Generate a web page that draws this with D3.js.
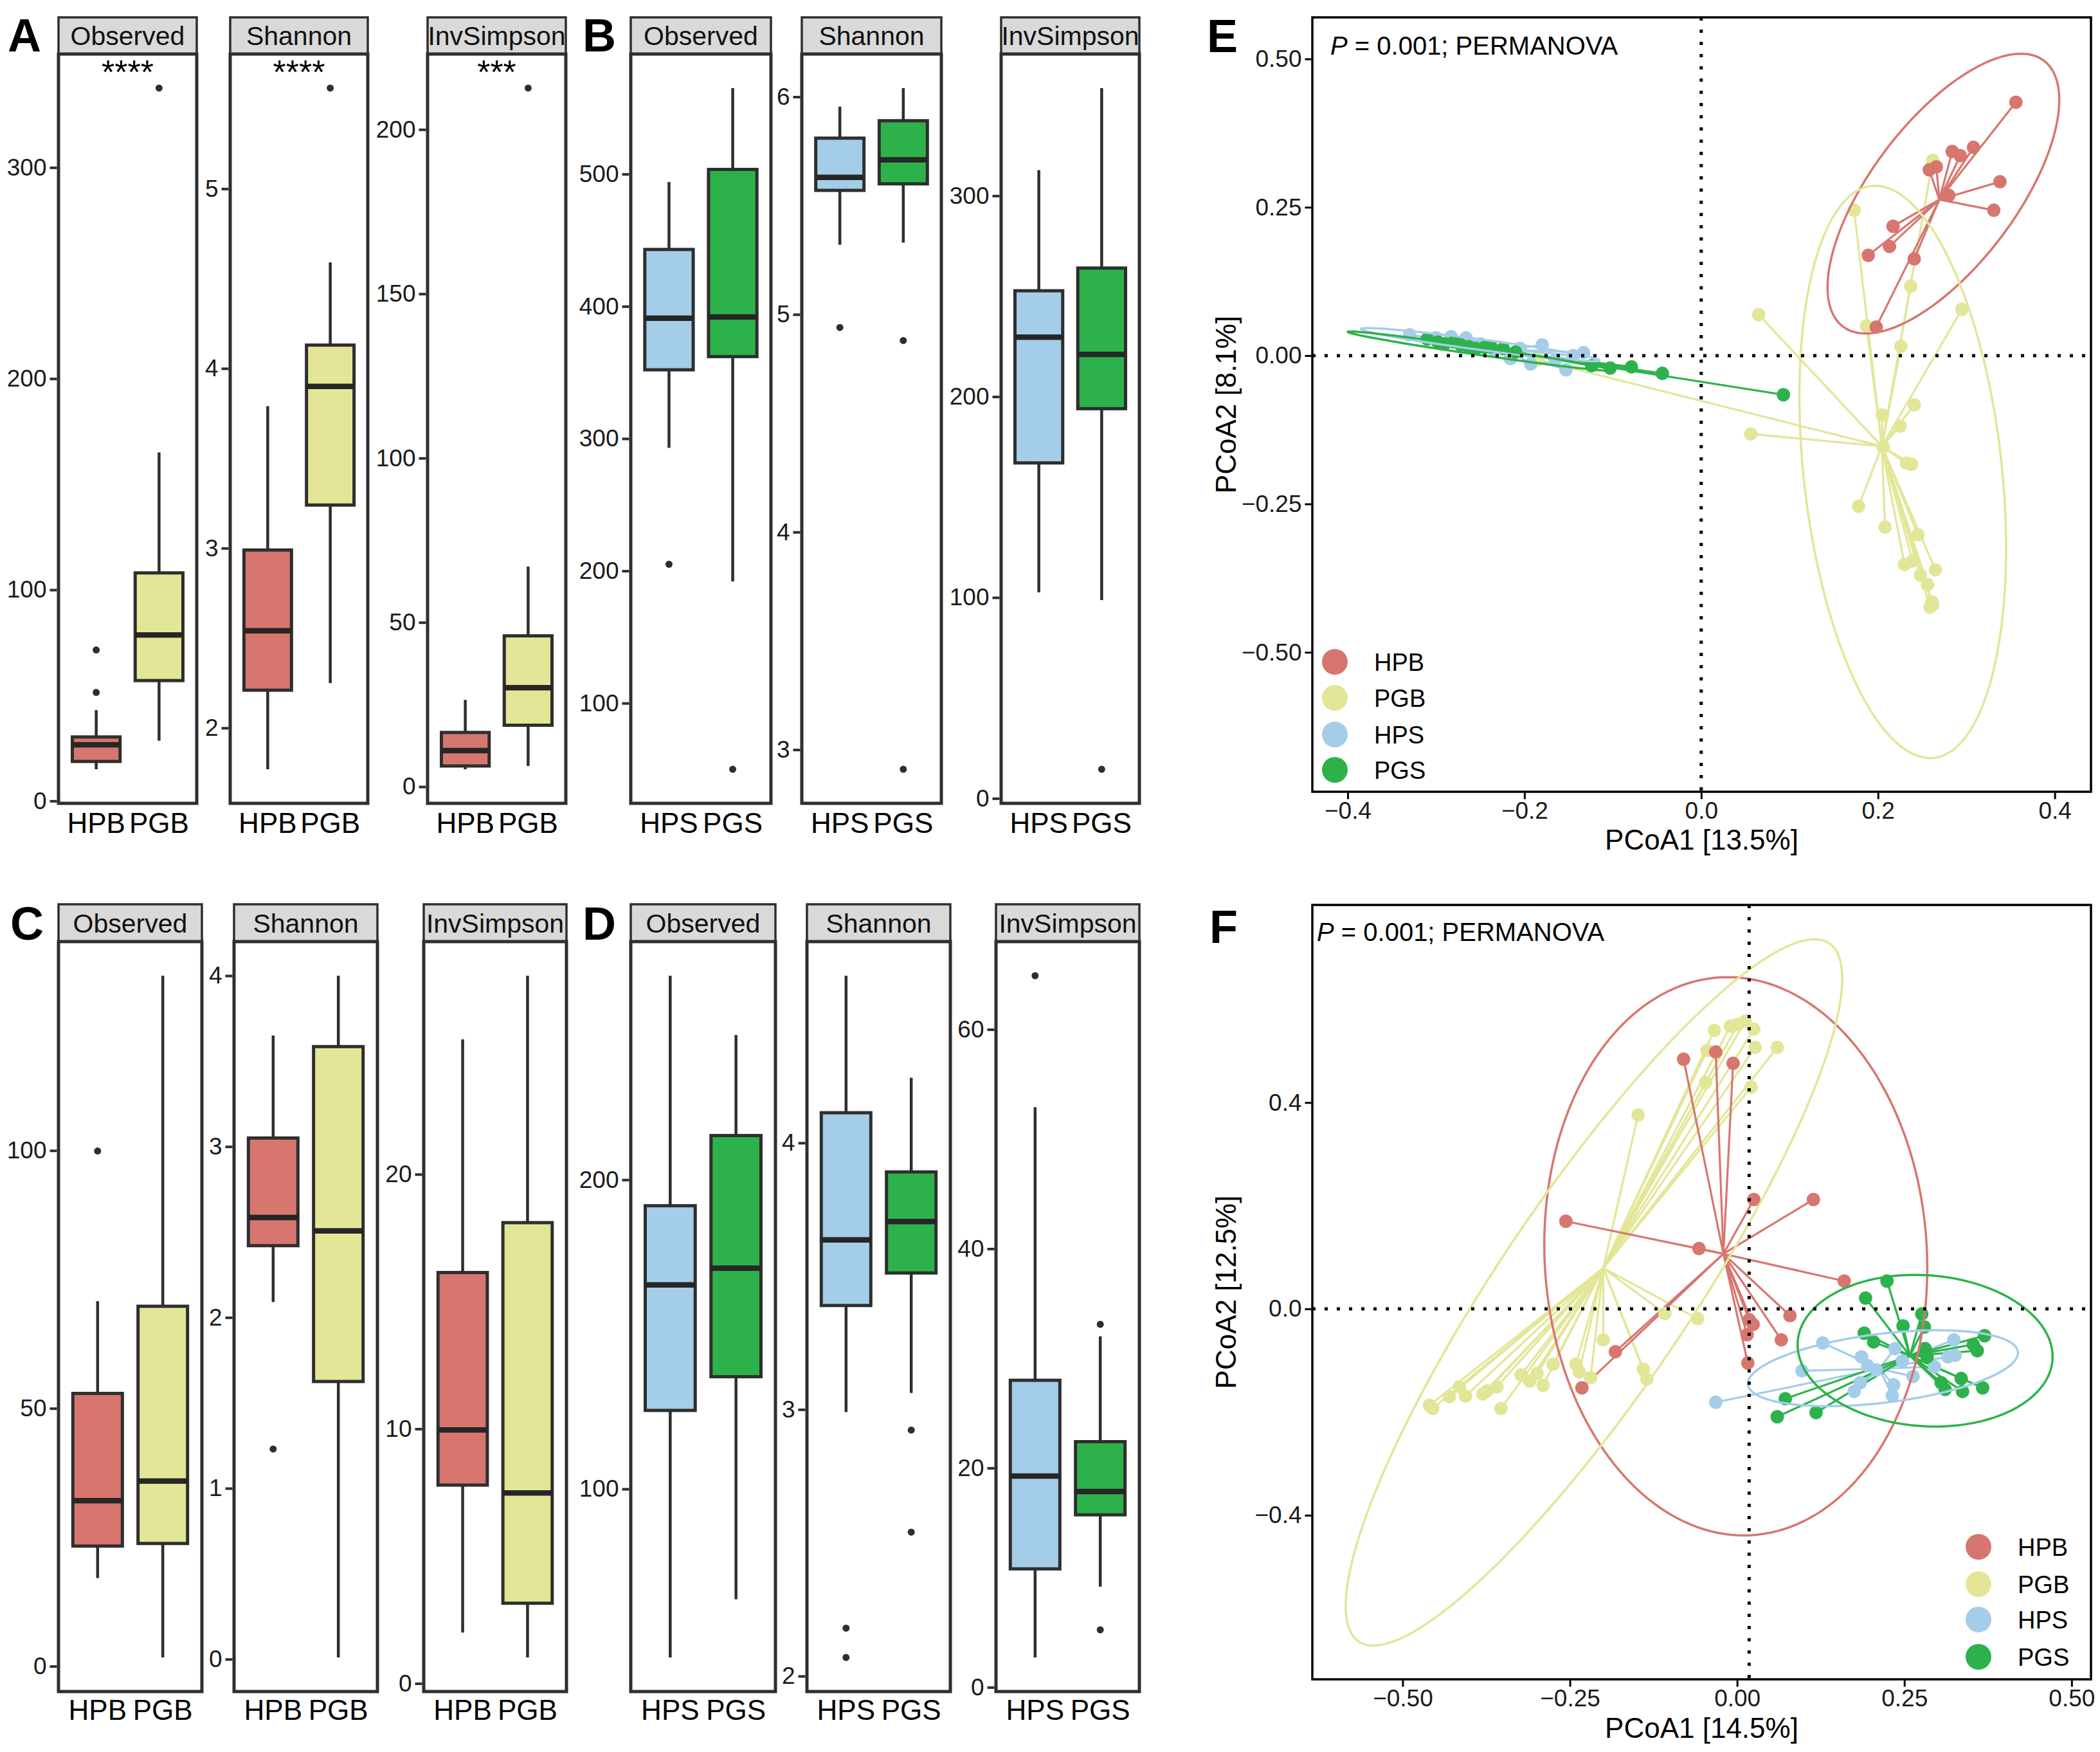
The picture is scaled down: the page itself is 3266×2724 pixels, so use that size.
<!DOCTYPE html>
<html lang="en">
<head>
<meta charset="UTF-8">
<title>Alpha diversity and PCoA</title>
<script src="https://d3js.org/d3.v7.min.js"></script>
<style>
  body { margin: 0; background: #fff; }
  text { font-family: "Liberation Sans", Arial, sans-serif; }
</style>
</head>
<body>
<script>
// ---------- data ----------
const metrics = ["Observed", "Shannon", "InvSimpson"];
const groupsB = ["HPB", "PGB"];
const groupsS = ["HPS", "PGS"];
const legendGroups = ["HPB", "PGB", "HPS", "PGS"];

// box stats per facet: lower whisker, q1, median, q3, upper whisker, outliers
const A_observed = [
  { lo: 15, q1: 18.7, med: 26.6, q3: 30.3, hi: 43, out: [51.4, 71.5] },
  { lo: 28.5, q1: 57, med: 78.6, q3: 108, hi: 165, out: [337.6] }
];
const A_shannon = [
  { lo: 1.77, q1: 2.21, med: 2.54, q3: 2.99, hi: 3.79, out: [] },
  { lo: 2.25, q1: 3.24, med: 3.90, q3: 4.13, hi: 4.59, out: [5.56] }
];
const A_invsimpson = [
  { lo: 5.3, q1: 6.3, med: 11, q3: 16.5, hi: 26.4, out: [] },
  { lo: 6.3, q1: 18.7, med: 30.1, q3: 45.9, hi: 67, out: [212.6] }
];
const B_observed = [
  { lo: 293, q1: 352, med: 391, q3: 443, hi: 494, out: [205] },
  { lo: 192, q1: 362, med: 392, q3: 503.5, hi: 565, out: [50] }
];
const B_shannon = [
  { lo: 5.32, q1: 5.57, med: 5.63, q3: 5.81, hi: 5.955, out: [4.94] },
  { lo: 5.33, q1: 5.60, med: 5.71, q3: 5.89, hi: 6.04, out: [4.88, 2.91] }
];
const B_invsimpson = [
  { lo: 102.6, q1: 167, med: 229.6, q3: 252.7, hi: 312.8, out: [] },
  { lo: 98.7, q1: 194, med: 221, q3: 264, hi: 353.6, out: [14.5] }
];
const C_observed = [
  { lo: 17.1, q1: 23.3, med: 32.1, q3: 52.9, hi: 70.8, out: [99.9] },
  { lo: 1.7, q1: 23.8, med: 35.9, q3: 69.8, hi: 133.9, out: [] }
];
const C_shannon = [
  { lo: 2.09, q1: 2.42, med: 2.585, q3: 3.05, hi: 3.65, out: [1.23] },
  { lo: 0.01, q1: 1.625, med: 2.507, q3: 3.585, hi: 4.0, out: [] }
];
const C_invsimpson = [
  { lo: 2.0, q1: 7.79, med: 9.96, q3: 16.14, hi: 25.3, out: [] },
  { lo: 1.02, q1: 3.15, med: 7.48, q3: 18.1, hi: 27.8, out: [] }
];
const D_observed = [
  { lo: 45.5, q1: 125.4, med: 166, q3: 191.6, hi: 266, out: [] },
  { lo: 64.3, q1: 136.3, med: 171.4, q3: 214.3, hi: 246.8, out: [] }
];
const D_shannon = [
  { lo: 2.99, q1: 3.39, med: 3.636, q3: 4.113, hi: 4.627, out: [2.18, 2.07] },
  { lo: 3.062, q1: 3.512, med: 3.705, q3: 3.891, hi: 4.244, out: [2.923, 2.54] }
];
const D_invsimpson = [
  { lo: 2.72, q1: 10.8, med: 19.26, q3: 28.0, hi: 52.9, out: [64.9] },
  { lo: 9.18, q1: 15.73, med: 17.85, q3: 22.4, hi: 32.0, out: [33.1, 5.24] }
];

const A_ticks = [[0, 100, 200, 300], [2, 3, 4, 5], [0, 50, 100, 150, 200]];
const B_ticks = [[100, 200, 300, 400, 500], [3, 4, 5, 6], [0, 100, 200, 300]];
const C_ticks = [[0, 50, 100], [0, 1, 2, 3, 4], [0, 10, 20]];
const D_ticks = [[100, 200], [2, 3, 4], [0, 20, 40, 60]];
const A_sig = ["****", "****", "***"];

// PCoA scores (panel E)
const E_HPB = [[0.356,0.427],[0.308,0.351],[0.284,0.344],[0.293,0.337],[0.266,0.318],[0.258,0.313],
  [0.338,0.293],[0.280,0.270],[0.331,0.245],[0.217,0.218],[0.213,0.184],[0.189,0.169],[0.241,0.163],[0.198,0.048]];
const E_PGB = [[0.262,0.329],[0.173,0.245],[0.065,0.069],[0.187,0.050],[0.237,0.117],[0.226,0.016],
  [0.295,0.078],[0.056,-0.132],[0.205,-0.100],[0.241,-0.083],[0.225,-0.119],[0.206,-0.154],[0.232,-0.181],
  [0.238,-0.183],[0.178,-0.254],[0.208,-0.289],[0.245,-0.302],[0.230,-0.352],[0.239,-0.346],[0.265,-0.361],
  [0.248,-0.370],[0.256,-0.386],[0.261,-0.415],[0.259,-0.424],[0.262,-0.420],[-0.185,-0.007]];
const E_HPS = [[-0.330,0.035],[-0.300,0.030],[-0.283,0.032],[-0.266,0.030],[-0.250,0.020],[-0.235,0.010],
  [-0.216,-0.005],[-0.205,0.012],[-0.193,-0.014],[-0.180,0.018],[-0.165,-0.008],[-0.153,-0.024],[-0.145,0.000],[-0.133,0.005]];
const E_PGS = [[-0.310,0.028],[-0.298,0.023],[-0.290,0.020],[-0.280,0.023],[-0.272,0.018],[-0.263,0.015],
  [-0.255,0.012],[-0.245,0.014],[-0.238,0.015],[-0.224,0.012],[-0.210,0.006],[-0.124,-0.017],[-0.103,-0.021],
  [-0.079,-0.019],[-0.044,-0.030],[0.093,-0.066]];
// ellipse: centre and two semi-axis vectors, in data units
const E_ellipses = [
  { group: "HPB", cx: 0.274, cy: 0.273, ax: 0.1114, ay: 0.2264, bx: 0.0691, by: -0.0657 },
  { group: "PGB", cx: 0.228, cy: -0.196, ax: 0.0346, ay: -0.482, bx: 0.1117, by: 0.0154 },
  { group: "HPS", cx: -0.250, cy: 0.0185, ax: 0.135, ay: -0.0265, bx: -0.001, by: -0.0087 },
  { group: "PGS", cx: -0.250, cy: 0.0075, ax: 0.150, ay: -0.0325, bx: -0.0006, by: -0.0065 }
];

// PCoA scores (panel F)
const F_HPB = [[-0.080,0.484],[-0.032,0.498],[-0.006,0.476],[-0.256,0.170],[-0.057,0.117],[0.025,0.212],
  [0.114,0.212],[0.160,0.054],[0.079,-0.013],[0.018,-0.021],[0.024,-0.030],[0.015,-0.050],[0.066,-0.060],
  [0.016,-0.105],[-0.182,-0.083],[-0.232,-0.153]];
const F_PGB = [[-0.034,0.540],[0.001,0.551],[0.012,0.558],[0.025,0.542],[0.027,0.507],[0.060,0.507],
  [-0.045,0.501],[0.021,0.430],[-0.047,0.439],[-0.148,0.376],[-0.010,0.548],
  [-0.460,-0.187],[-0.455,-0.193],[-0.430,-0.170],[-0.415,-0.151],[-0.406,-0.169],[-0.380,-0.165],
  [-0.374,-0.159],[-0.359,-0.151],[-0.353,-0.193],[-0.323,-0.128],[-0.310,-0.140],[-0.299,-0.125],
  [-0.290,-0.148],[-0.275,-0.107],[-0.241,-0.107],[-0.236,-0.122],[-0.219,-0.133],[-0.200,-0.060],
  [-0.140,-0.117],[-0.135,-0.136],[-0.108,-0.009],[-0.059,-0.019]];
const F_HPS = [[-0.032,-0.181],[0.128,-0.066],[0.097,-0.120],[0.186,-0.093],[0.236,-0.077],[0.324,-0.060],
  [0.326,-0.090],[0.315,-0.093],[0.295,-0.112],[0.263,-0.131],[0.195,-0.110],[0.208,-0.118],[0.184,-0.143],
  [0.175,-0.160],[0.234,-0.147],[0.232,-0.168],[0.247,-0.101]];
const F_PGS = [[0.224,0.054],[0.192,0.021],[0.276,-0.010],[0.280,-0.035],[0.248,-0.033],[0.190,-0.047],
  [0.204,-0.064],[0.281,-0.077],[0.284,-0.093],[0.370,-0.052],[0.353,-0.069],[0.359,-0.081],[0.335,-0.135],
  [0.305,-0.143],[0.337,-0.160],[0.367,-0.153],[0.311,-0.156],[0.072,-0.174],[0.060,-0.209],[0.118,-0.201]];
const F_ellipses = [
  { group: "HPB", cx: -0.002, cy: 0.102, ax: -0.012, ay: 0.541, bx: 0.286, by: 0 },
  { group: "PGB", cx: -0.214, cy: 0.032, ax: 0.350, ay: 0.678, bx: 0.1235, by: -0.0942 },
  { group: "HPS", cx: 0.218, cy: -0.115, ax: 0.2017, ay: 0.0318, bx: 0.0062, by: -0.0663 },
  { group: "PGS", cx: 0.281, cy: -0.081, ax: 0.190, ay: 0.0, bx: -0.015, by: 0.147 }
];

const E_xTicks = [-0.4, -0.2, 0.0, 0.2, 0.4];
const E_yTicks = [-0.50, -0.25, 0.00, 0.25, 0.50];
const F_xTicks = [-0.50, -0.25, 0.00, 0.25, 0.50];
const F_yTicks = [-0.4, 0.0, 0.4];

// ---------- drawing ----------
const colors = { HPB: "#D7766F", PGB: "#E3E697", HPS: "#A4CDE9", PGS: "#2DB24B" };
const ink = "#2e2e2e";

const svg = d3.select("body").append("svg")
  .attr("width", 3266)
  .attr("height", 2724);

const rows = [
  { strip: 27, top: 84, bottom: 1249, label: 1295 },
  { strip: 1406, top: 1464, bottom: 2630, label: 2674 }
];

let clipId = 0;

function drawFacet(x0, x1, row, title, groups, stats, ticks, sig) {
  const g = svg.append("g");
  const x = d3.scalePoint().domain(groups).range([x0, x1]).padding(0.6);
  const vals = stats.flatMap(s => [s.lo, s.hi, ...s.out]);
  const [mn, mx] = d3.extent(vals);
  const pad = (mx - mn) * 0.05;
  const y = d3.scaleLinear().domain([mn - pad, mx + pad]).range([row.bottom, row.top]);
  const bw = x.step() * 0.76;

  // strip
  const id = "clip" + (clipId++);
  g.append("clipPath").attr("id", id)
    .append("rect").attr("x", x0).attr("y", row.strip).attr("width", x1 - x0).attr("height", row.top - row.strip);
  g.append("rect")
    .attr("x", x0).attr("y", row.strip)
    .attr("width", x1 - x0).attr("height", row.top - row.strip)
    .attr("fill", "#D9D9D9").attr("stroke", ink).attr("stroke-width", 3.5);
  g.append("text")
    .attr("clip-path", `url(#${id})`)
    .attr("x", (x0 + x1) / 2).attr("y", (row.strip + row.top) / 2)
    .attr("dy", "0.36em").attr("text-anchor", "middle")
    .attr("font-size", 41).attr("fill", "#111")
    .text(title);

  // boxes
  stats.forEach((s, i) => {
    const cx = x(groups[i]);
    g.append("line").attr("x1", cx).attr("x2", cx).attr("y1", y(s.lo)).attr("y2", y(s.q1))
      .attr("stroke", ink).attr("stroke-width", 4.5);
    g.append("line").attr("x1", cx).attr("x2", cx).attr("y1", y(s.q3)).attr("y2", y(s.hi))
      .attr("stroke", ink).attr("stroke-width", 4.5);
    g.append("rect")
      .attr("x", cx - bw / 2).attr("y", y(s.q3))
      .attr("width", bw).attr("height", y(s.q1) - y(s.q3))
      .attr("fill", colors[groups[i]]).attr("stroke", ink).attr("stroke-width", 5);
    g.append("line").attr("x1", cx - bw / 2).attr("x2", cx + bw / 2).attr("y1", y(s.med)).attr("y2", y(s.med))
      .attr("stroke", "#262626").attr("stroke-width", 8.5);
    g.selectAll(null).data(s.out).join("circle")
      .attr("cx", cx).attr("cy", d => y(d)).attr("r", 5.5).attr("fill", ink);
  });

  // frame
  g.append("rect")
    .attr("x", x0).attr("y", row.top)
    .attr("width", x1 - x0).attr("height", row.bottom - row.top)
    .attr("fill", "none").attr("stroke", ink).attr("stroke-width", 5);

  // y axis
  const ax = g.append("g").attr("transform", `translate(${x0 - 2.5},0)`)
    .call(d3.axisLeft(y).tickValues(ticks).tickFormat(d3.format("d")).tickSize(11).tickPadding(5));
  ax.select(".domain").remove();
  ax.selectAll(".tick line").attr("stroke", ink).attr("stroke-width", 4);
  ax.selectAll(".tick text").attr("font-size", 37).attr("fill", "#1a1a1a")
    .attr("font-family", "Liberation Sans, Arial, sans-serif");

  // x labels
  g.selectAll(null).data(groups).join("text")
    .attr("x", d => x(d)).attr("y", row.label)
    .attr("text-anchor", "middle").attr("font-size", 44).attr("fill", "#000")
    .text(d => d);

  if (sig) {
    g.append("text")
      .attr("x", (x0 + x1) / 2).attr("y", row.top + 46)
      .attr("text-anchor", "middle").attr("font-size", 52).attr("fill", "#000")
      .text(sig);
  }
}

const facetX = {
  A: [[91, 306], [358, 572], [665, 880]],
  B: [[981, 1199], [1247, 1464], [1557, 1772]],
  C: [[91, 314], [364, 587], [659, 881]],
  D: [[981, 1206], [1255, 1478], [1549, 1772]]
};

[A_observed, A_shannon, A_invsimpson].forEach((s, i) =>
  drawFacet(facetX.A[i][0], facetX.A[i][1], rows[0], metrics[i], groupsB, s, A_ticks[i], A_sig[i]));
[B_observed, B_shannon, B_invsimpson].forEach((s, i) =>
  drawFacet(facetX.B[i][0], facetX.B[i][1], rows[0], metrics[i], groupsS, s, B_ticks[i], null));
[C_observed, C_shannon, C_invsimpson].forEach((s, i) =>
  drawFacet(facetX.C[i][0], facetX.C[i][1], rows[1], metrics[i], groupsB, s, C_ticks[i], null));
[D_observed, D_shannon, D_invsimpson].forEach((s, i) =>
  drawFacet(facetX.D[i][0], facetX.D[i][1], rows[1], metrics[i], groupsS, s, D_ticks[i], null));

function ellipsePoints(e) {
  return d3.range(0, 181).map(i => {
    const t = i / 180 * 2 * Math.PI;
    return [e.cx + e.ax * Math.cos(t) + e.bx * Math.sin(t), e.cy + e.ay * Math.cos(t) + e.by * Math.sin(t)];
  });
}

function drawPcoa(c) {
  const g = svg.append("g");
  const x = d3.scaleLinear().domain(c.xDom).range([c.left, c.right]);
  const y = d3.scaleLinear().domain(c.yDom).range([c.bottom, c.top]);
  const id = "clip" + (clipId++);
  g.append("clipPath").attr("id", id).append("rect")
    .attr("x", c.left).attr("y", c.top).attr("width", c.right - c.left).attr("height", c.bottom - c.top);
  const plot = g.append("g").attr("clip-path", `url(#${id})`);

  const drawOrder = ["PGB", "HPB", "HPS", "PGS"];
  const centroids = {};
  c.sets.forEach(s => { centroids[s.group] = [d3.mean(s.pts, p => p[0]), d3.mean(s.pts, p => p[1])]; });

  // spider segments
  drawOrder.forEach(gr => {
    const s = c.sets.find(d => d.group === gr);
    const ct = centroids[gr];
    plot.selectAll(null).data(s.pts).join("line")
      .attr("x1", d => x(d[0])).attr("y1", d => y(d[1]))
      .attr("x2", x(ct[0])).attr("y2", y(ct[1]))
      .attr("stroke", colors[gr]).attr("stroke-width", 3.2);
  });
  // points
  drawOrder.forEach(gr => {
    const s = c.sets.find(d => d.group === gr);
    plot.selectAll(null).data(s.pts).join("circle")
      .attr("cx", d => x(d[0])).attr("cy", d => y(d[1])).attr("r", 10.5)
      .attr("fill", colors[gr]);
  });
  // ellipses
  const line = d3.line().x(d => x(d[0])).y(d => y(d[1])).curve(d3.curveLinearClosed);
  c.ellipses.forEach(e => {
    plot.append("path").attr("d", line(ellipsePoints(e)))
      .attr("fill", "none").attr("stroke", colors[e.group]).attr("stroke-width", 3.5);
  });
  // reference lines
  plot.append("line").attr("x1", x(c.refX)).attr("x2", x(c.refX)).attr("y1", c.top).attr("y2", c.bottom)
    .attr("stroke", "#000").attr("stroke-width", 5).attr("stroke-dasharray", "5,14");
  plot.append("line").attr("x1", c.left).attr("x2", c.right).attr("y1", y(0)).attr("y2", y(0))
    .attr("stroke", "#000").attr("stroke-width", 5).attr("stroke-dasharray", "5,14");

  // frame
  g.append("rect").attr("x", c.left).attr("y", c.top)
    .attr("width", c.right - c.left).attr("height", c.bottom - c.top)
    .attr("fill", "none").attr("stroke", "#000").attr("stroke-width", 3.5);

  const xa = g.append("g").attr("transform", `translate(0,${c.bottom + 1.5})`)
    .call(d3.axisBottom(x).tickValues(c.xTicks).tickFormat(d3.format(c.xFmt)).tickSize(10).tickPadding(4));
  const ya = g.append("g").attr("transform", `translate(${c.left - 1.5},0)`)
    .call(d3.axisLeft(y).tickValues(c.yTicks).tickFormat(d3.format(c.yFmt)).tickSize(10).tickPadding(5));
  [xa, ya].forEach(a => {
    a.select(".domain").remove();
    a.selectAll(".tick line").attr("stroke", "#000").attr("stroke-width", 3);
    a.selectAll(".tick text").attr("font-size", 37).attr("fill", "#1a1a1a")
      .attr("font-family", "Liberation Sans, Arial, sans-serif");
  });

  g.append("text").attr("x", (c.left + c.right) / 2).attr("y", c.xTitleY)
    .attr("text-anchor", "middle").attr("font-size", 44).attr("fill", "#000").text(c.xTitle);
  g.append("text").attr("transform", `translate(1906,${(c.top + c.bottom) / 2}) rotate(-90)`)
    .attr("dy", "0.36em").attr("text-anchor", "middle").attr("font-size", 44).attr("fill", "#000").text(c.yTitle);

  const ann = g.append("text").attr("x", c.annX).attr("y", c.annY).attr("font-size", 40).attr("fill", "#000");
  ann.append("tspan").attr("font-style", "italic").text("P");
  ann.append("tspan").text(" = 0.001; PERMANOVA");

  const leg = g.selectAll(null).data(legendGroups).join("g")
    .attr("transform", (d, i) => `translate(${c.legX},${c.legY[i]})`);
  leg.append("circle").attr("r", 20).attr("fill", d => colors[d]);
  leg.append("text").attr("x", 61).attr("dy", "0.36em").attr("font-size", 38).attr("fill", "#000").text(d => d);
}

drawPcoa({
  left: 2041, right: 3252, top: 27, bottom: 1231,
  xDom: [-0.44, 0.441], yDom: [-0.735, 0.570],
  xTicks: E_xTicks, yTicks: E_yTicks, xFmt: ".1f", yFmt: ".2f",
  sets: [{ group: "HPB", pts: E_HPB }, { group: "PGB", pts: E_PGB }, { group: "HPS", pts: E_HPS }, { group: "PGS", pts: E_PGS }],
  ellipses: E_ellipses, refX: 0,
  xTitle: "PCoA1 [13.5%]", yTitle: "PCoA2 [8.1%]", xTitleY: 1321,
  annX: 2069, annY: 85,
  legX: 2076, legY: [1029, 1085, 1142, 1197]
});

drawPcoa({
  left: 2041, right: 3252, top: 1407, bottom: 2611,
  xDom: [-0.635, 0.529], yDom: [-0.718, 0.783],
  xTicks: F_xTicks, yTicks: F_yTicks, xFmt: ".2f", yFmt: ".1f",
  sets: [{ group: "HPB", pts: F_HPB }, { group: "PGB", pts: F_PGB }, { group: "HPS", pts: F_HPS }, { group: "PGS", pts: F_PGS }],
  ellipses: F_ellipses, refX: 0.018,
  xTitle: "PCoA1 [14.5%]", yTitle: "PCoA2 [12.5%]", xTitleY: 2702,
  annX: 2048, annY: 1463,
  legX: 3077, legY: [2405, 2463, 2518, 2576]
});

// panel letters
const letters = [["A", 12, 80], ["B", 906, 80], ["C", 16, 1461], ["D", 906, 1461], ["E", 1877, 81], ["F", 1881, 1466]];
svg.selectAll(null).data(letters).join("text")
  .attr("x", d => d[1]).attr("y", d => d[2])
  .attr("font-size", 72).attr("font-weight", "bold").attr("fill", "#000")
  .text(d => d[0]);
</script>
</body>
</html>
